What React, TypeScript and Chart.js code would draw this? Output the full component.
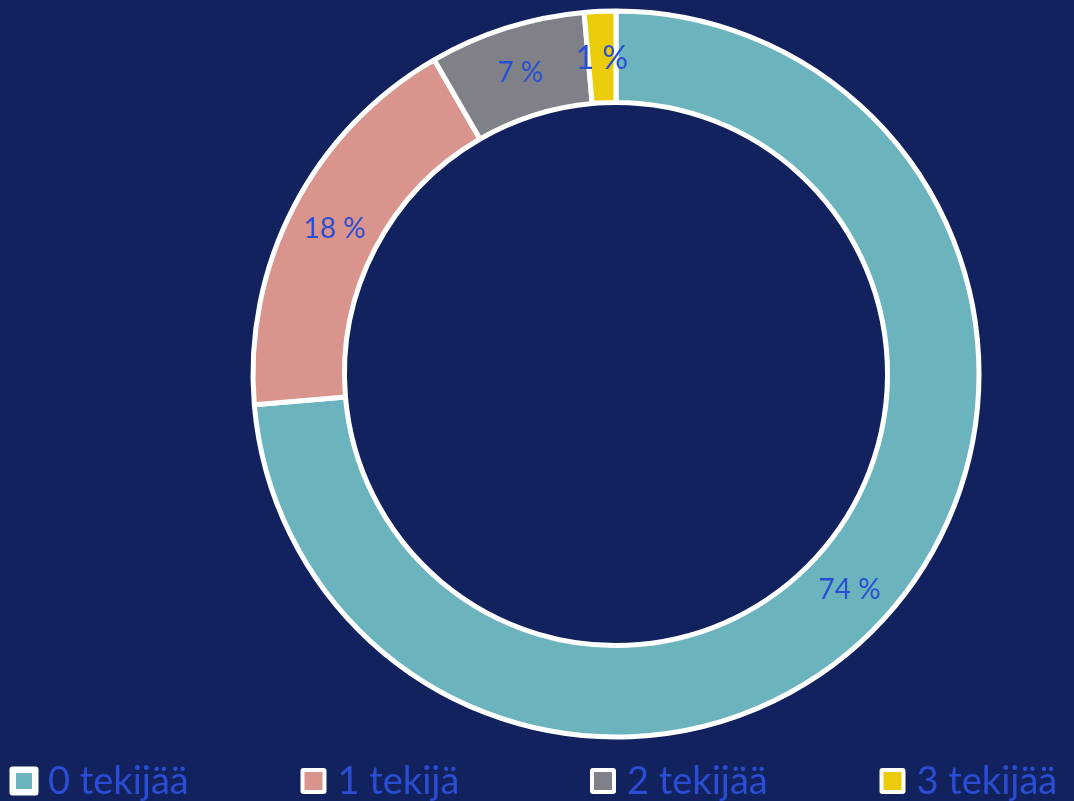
import React, { useEffect, useRef } from "react";
import { Chart, registerables } from "chart.js";

Chart.register(...registerables);

// ---- data ----
const categories = ["0 tekijää", "1 tekijä", "2 tekijää", "3 tekijää"];
const shares = [73.65, 18.0, 6.95, 1.4];
const sliceColors = ["#6CB4BD", "#D9948E", "#7F8088", "#EACC0A"];

// ---- style ----
const BG = "#12225F";
const TEXT = "#2A4DD3";
const FONT = "Lato, 'Open Sans', sans-serif";
const labelFontSizes = [28, 28, 28, 32];

function roundRect(ctx: CanvasRenderingContext2D, x: number, y: number, w: number, h: number, r: number) {
  ctx.beginPath();
  ctx.moveTo(x + r, y);
  ctx.lineTo(x + w - r, y);
  ctx.quadraticCurveTo(x + w, y, x + w, y + r);
  ctx.lineTo(x + w, y + h - r);
  ctx.quadraticCurveTo(x + w, y + h, x + w - r, y + h);
  ctx.lineTo(x + r, y + h);
  ctx.quadraticCurveTo(x, y + h, x, y + h - r);
  ctx.lineTo(x, y + r);
  ctx.quadraticCurveTo(x, y, x + r, y);
  ctx.closePath();
}

export default function App() {
  const ref = useRef<HTMLCanvasElement>(null);

  useEffect(() => {
    document.body.style.margin = "0";
    document.body.style.background = BG;

    const labelPlugin = {
      id: "sliceLabels",
      afterDatasetsDraw(chart: any) {
        const ctx = chart.ctx as CanvasRenderingContext2D;
        const meta = chart.getDatasetMeta(0);
        ctx.save();
        ctx.fillStyle = TEXT;
        ctx.textAlign = "center";
        ctx.textBaseline = "alphabetic";
        meta.data.forEach((arc: any, i: number) => {
          const size = labelFontSizes[i];
          ctx.font = `${size}px ${FONT}`;
          const p = arc.tooltipPosition(false);
          ctx.fillText(`${Math.round(shares[i])} %`, p.x, p.y + size * 0.37);
        });
        ctx.restore();
      },
    };

    const legendPlugin = {
      id: "bottomLegend",
      afterDraw(chart: any) {
        const ctx = chart.ctx as CanvasRenderingContext2D;
        const slotLeft = 11;
        const slotWidth = 289.5;
        const boxCenterY = 781;
        ctx.save();
        ctx.font = `38px ${FONT}`;
        ctx.textAlign = "left";
        ctx.textBaseline = "alphabetic";
        categories.forEach((label, i) => {
          const x0 = slotLeft + i * slotWidth;
          const outer = i === 0 ? 29 : 26;
          const bw = i === 0 ? 6.5 : 4;
          const bx = i === 0 ? x0 - 1.5 : x0;
          const by = boxCenterY - outer / 2;
          ctx.fillStyle = "#FFFFFF";
          roundRect(ctx, bx, by, outer, outer, 3);
          ctx.fill();
          ctx.fillStyle = sliceColors[i];
          ctx.fillRect(bx + bw, by + bw, outer - 2 * bw, outer - 2 * bw);
          ctx.fillStyle = TEXT;
          ctx.fillText(label, x0 + 37, 794);
        });
        ctx.restore();
      },
    };

    const chart = new Chart(ref.current!, {
      type: "doughnut",
      data: {
        labels: categories,
        datasets: [
          {
            data: shares,
            backgroundColor: sliceColors,
            borderColor: "#FFFFFF",
            borderWidth: 5,
            borderAlign: "center",
          },
        ],
      },
      options: {
        animation: false,
        responsive: true,
        maintainAspectRatio: false,
        events: [],
        radius: 363,
        cutout: "74.8%",
        layout: { padding: { left: 158, right: 0, top: 0, bottom: 53 } },
        plugins: {
          legend: { display: false },
          tooltip: { enabled: false },
          title: { display: false },
        },
      } as any,
      plugins: [labelPlugin, legendPlugin],
    });

    return () => chart.destroy();
  }, []);

  return (
    <div style={{ width: 1074, height: 801, background: BG, position: "relative" }}>
      <canvas ref={ref} />
    </div>
  );
}
